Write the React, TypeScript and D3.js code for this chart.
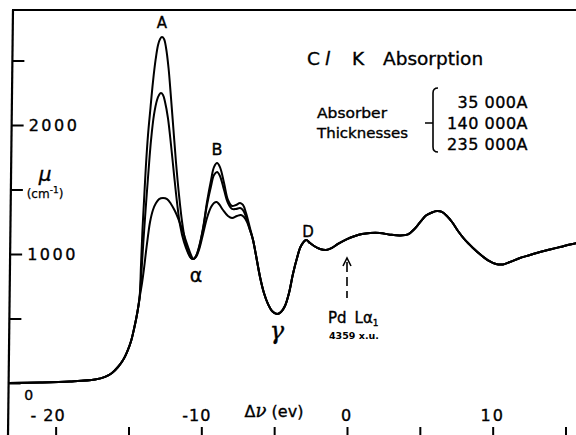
import React, { useEffect, useRef } from "react";
import * as d3 from "d3";

const W = 576;
const H = 435;

// photon energy relative to Pd La1 (eV) and absorption coefficient mu (cm^-1)
// common low energy side of the edge
const edgeEv = [-23.2, -21.07, -19.01, -17.3, -16.61, -16.13, -15.72, -15.37, -15.1, -14.82, -14.62, -14.41, -14.24];
const edgeMu = [0, 4, 12, 27, 47, 78, 124, 178, 240, 326, 419, 535, 659];

// the three absorbers split apart over peaks A and B
const peak35Ev = [-14.14, -14.04, -13.93, -13.8, -13.66, -13.49, -13.32, -13.14, -12.97, -12.83, -12.7, -12.56, -12.42, -12.25, -12.08, -11.91, -11.74, -11.53, -11.32, -11.12, -10.91, -10.71, -10.54, -10.36, -10.16, -9.88, -9.61, -9.33, -9.13, -8.92, -8.72, -8.44, -8.17, -7.89, -7.62, -7.34, -7.14, -6.93, -6.66];
const peak35Mu = [915, 1186, 1419, 1690, 1922, 2132, 2333, 2504, 2620, 2667, 2682, 2667, 2597, 2442, 2209, 1961, 1713, 1457, 1248, 1109, 1016, 969, 961, 985, 1054, 1202, 1403, 1574, 1674, 1705, 1674, 1550, 1419, 1372, 1380, 1395, 1380, 1318, 1202];

const peak140Ev = [-14.1, -13.97, -13.8, -13.62, -13.45, -13.25, -13.04, -12.9, -12.77, -12.63, -12.49, -12.29, -12.08, -11.87, -11.67, -11.46, -11.19, -10.91, -10.71, -10.54, -10.36, -10.16, -9.88, -9.61, -9.33, -9.13, -8.92, -8.72, -8.44, -8.17, -7.89, -7.62, -7.34, -7.14, -6.93, -6.66];
const peak140Mu = [876, 1109, 1380, 1651, 1884, 2078, 2194, 2233, 2248, 2233, 2178, 2054, 1845, 1612, 1403, 1225, 1093, 1008, 969, 961, 985, 1047, 1194, 1380, 1527, 1612, 1636, 1605, 1496, 1395, 1349, 1349, 1357, 1341, 1287, 1186];

const peak235Ev = [-14.07, -13.93, -13.8, -13.66, -13.52, -13.32, -13.11, -12.9, -12.63, -12.35, -12.08, -11.81, -11.6, -11.32, -11.12, -10.91, -10.71, -10.54, -10.36, -10.16, -9.88, -9.61, -9.33, -9.13, -8.96, -8.79, -8.51, -8.17, -7.89, -7.55, -7.28, -7.07, -6.86, -6.66];
const peak235Mu = [775, 891, 1016, 1140, 1248, 1341, 1395, 1426, 1434, 1426, 1388, 1333, 1279, 1194, 1124, 1054, 992, 961, 977, 1031, 1155, 1279, 1364, 1395, 1403, 1388, 1341, 1295, 1279, 1295, 1302, 1287, 1248, 1186];

// common high energy side
const tailEv = [-6.45, -6.25, -5.97, -5.7, -5.42, -5.15, -4.8, -4.53, -4.26, -3.98, -3.71, -3.43, -3.16, -2.81, -2.54, -2.26, -1.85, -1.44, -1.03, -0.62, 0, 0.55, 1.03, 1.58, 2.26, 2.95, 3.64, 4.19, 4.6, 5.01, 5.42, 5.83, 6.18, 6.52, 6.86, 7.21, 7.62, 8.1, 8.65, 9.2, 9.75, 10.23, 10.71, 11.19, 11.87, 12.56, 13.25, 13.93, 14.62, 15.31, 15.79];
const tailMu = [1109, 992, 822, 698, 612, 558, 535, 550, 597, 698, 845, 969, 1062, 1109, 1085, 1062, 1039, 1031, 1047, 1078, 1116, 1140, 1155, 1163, 1163, 1150, 1143, 1152, 1190, 1245, 1298, 1322, 1333, 1326, 1295, 1248, 1178, 1109, 1047, 992, 946, 922, 919, 938, 969, 992, 1016, 1035, 1054, 1074, 1085];

const thicknesses = ["35 000A", "140 000A", "235 000A"];
const yTicks = [0, 500, 1000, 1500, 2000, 2500];
const yTickLabels = [1000, 2000];
const xTicks = [-20, -15, -10, -5, 0, 5, 10, 15];
const xTickLabels = [-20, -10, 0, 10];

const peaks = [
  { ev: peak35Ev, mu: peak35Mu },
  { ev: peak140Ev, mu: peak140Mu },
  { ev: peak235Ev, mu: peak235Mu },
];

const font = "DejaVu Sans, Liberation Sans, sans-serif";
// the lettering in the scan is heavier than a plain book weight
const ink = { fill: "#000", stroke: "#000", strokeWidth: 0.35 };

const App = () => {
  const yAxisRef = useRef<SVGGElement>(null);
  const xAxisRef = useRef<SVGGElement>(null);

  const x = d3.scaleLinear().domain([-23.27, 15.72]).range([8, 576]);
  const y = d3.scaleLinear().domain([0, 2500]).range([383, 60.5]);

  const series = peaks.map((p) => {
    const ev = [...edgeEv, ...p.ev, ...tailEv];
    const mu = [...edgeMu, ...p.mu, ...tailMu];
    return ev.map((e, i) => [e, mu[i]] as [number, number]);
  });

  const line = d3
    .line<[number, number]>()
    .x((d) => x(d[0]))
    .y((d) => y(d[1]))
    .curve(d3.curveCatmullRom.alpha(0.5));

  useEffect(() => {
    const gy = d3.select(yAxisRef.current);
    gy.call(d3.axisRight(y).tickValues(yTicks).tickSize(12).tickFormat(() => "") as any);
    gy.select(".domain").remove();
    gy.selectAll(".tick line").attr("stroke-width", 2).attr("stroke", "#000");

    const gx = d3.select(xAxisRef.current);
    gx.call(d3.axisTop(x).tickValues(xTicks).tickSize(12).tickFormat(() => "") as any);
    gx.select(".domain").remove();
    gx.selectAll(".tick line").attr("stroke-width", 2).attr("stroke", "#000");
  }, []);

  // left frame line is slightly tilted in the scan
  const skew = -0.67;
  const leftX = (py: number) => 13.1 - py * Math.tan((-skew * Math.PI) / 180);

  return (
    <div style={{ position: "absolute", left: 0, top: 0 }}>
      <svg width={W} height={H} style={{ display: "block", background: "#fff" }} fontFamily={font}>
        <g transform={`translate(13.1,0) skewX(${skew})`}>
          <line x1={0} y1={10} x2={0} y2={H} stroke="#000" strokeWidth={2.2} />
          <g ref={yAxisRef} />
        </g>
        <line x1={12} y1={10} x2={W} y2={10} stroke="#000" strokeWidth={2} />
        <g ref={xAxisRef} transform={`translate(0,${H + 4})`} />

        {yTickLabels.map((v) => (
          <text key={v} x={leftX(y(v)) + 17} y={y(v) + 6} fontSize={16} letterSpacing={2.5} {...ink}>
            {v}
          </text>
        ))}
        <text x={leftX(y(0)) + 20} y={y(0) + 17} fontSize={14} textAnchor="middle" {...ink}>0</text>

        <text x={45} y={181} fontSize={20} textAnchor="middle" fontStyle="italic" {...ink}>μ</text>
        <text x={45} y={198} fontSize={12} textAnchor="middle" {...ink} strokeWidth={0.25}>
          (cm<tspan dy={-5} fontSize={9}>-1</tspan><tspan dy={5}>)</tspan>
        </text>

        {xTickLabels.map((v) => (
          <text
            key={v}
            x={v < 0 ? x(v) + 10 : x(v)}
            y={421}
            fontSize={16}
            letterSpacing={v < 0 ? 1 : 2}
            textAnchor={v < 0 ? "end" : "middle"}
            {...ink}
          >
            {v < 0 ? (v === -20 ? `- ${-v}` : `-${-v}`) : v}
          </text>
        ))}
        <text x={274} y={417} fontSize={16} textAnchor="middle" {...ink}>
          Δ<tspan fontStyle="italic" fontFamily="DejaVu Serif, serif" fontSize={18}>ν</tspan> (ev)
        </text>

        {series.map((s, i) => (
          <path key={thicknesses[i]} d={line(s) ?? ""} fill="none" stroke="#000" strokeWidth={2} strokeLinejoin="round" />
        ))}

        <text x={162} y={28} fontSize={15} textAnchor="middle" {...ink}>A</text>
        <text x={217} y={155} fontSize={16} textAnchor="middle" {...ink}>B</text>
        <text x={308} y={237} fontSize={15} textAnchor="middle" {...ink}>D</text>
        <text x={196} y={282} fontSize={19} textAnchor="middle" {...ink}>α</text>
        <text x={277} y={339} fontSize={24} textAnchor="middle" fontStyle="italic" fontFamily="DejaVu Serif, serif" {...ink}>γ</text>

        <line x1={x(0)} y1={262} x2={x(0)} y2={298} stroke="#000" strokeWidth={1.6} strokeDasharray="10,5,9,5,8" />
        <path d={`M${x(0) - 4},${266} L${x(0)},${258} L${x(0) + 4},${266}`} fill="none" stroke="#000" strokeWidth={1.6} />
        <text x={328} y={323} fontSize={15} {...ink}>
          Pd<tspan dx={8}>Lα</tspan><tspan dy={3} fontSize={9}>1</tspan>
        </text>
        <text x={329} y={339} fontSize={9.5} fontWeight="bold" fill="#000">4359 x.u.</text>

        <text y={65} fontSize={18.5} {...ink}>
          <tspan x={307}>C</tspan>
          <tspan x={325} fontStyle="italic">l</tspan>
          <tspan x={352}>K</tspan>
          <tspan x={383}>Absorption</tspan>
        </text>
        <text x={317} y={118} fontSize={14} textLength={70} lengthAdjust="spacingAndGlyphs" {...ink}>Absorber</text>
        <text x={317} y={138} fontSize={14} textLength={91} lengthAdjust="spacingAndGlyphs" {...ink}>Thicknesses</text>
        <path d="M438,88 Q433,88 433,93 L433,147 Q433,152 438,152 M425,123 L433,123" fill="none" stroke="#000" strokeWidth={1.6} />
        {thicknesses.map((t, i) => (
          <text key={t} x={528} y={108 + i * 21} fontSize={16} textAnchor="end" letterSpacing={0.5} {...ink}>
            {t}
          </text>
        ))}
      </svg>
    </div>
  );
};

export default App;
